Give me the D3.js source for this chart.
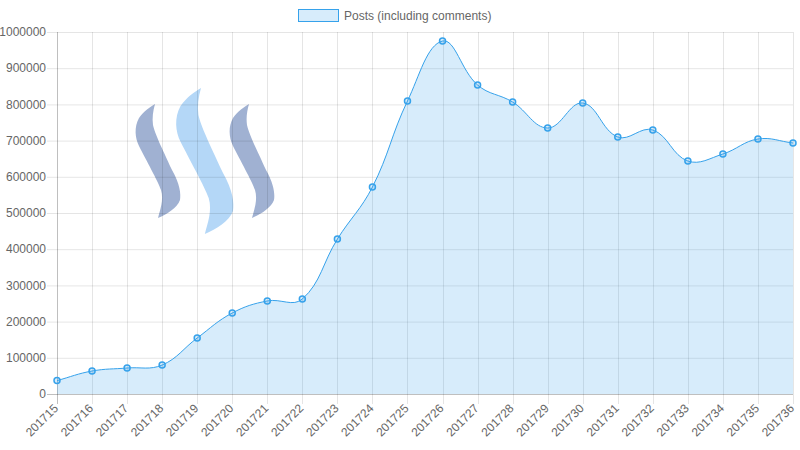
<!DOCTYPE html>
<html>
<head>
<meta charset="utf-8">
<script src="https://cdn.jsdelivr.net/npm/d3@7"></script>
<style>
  html, body { margin: 0; padding: 0; background: #fff; }
  svg { display: block; font-family: "Liberation Sans", Arial, Helvetica, sans-serif; }
</style>
</head>
<body>
<svg id="chart" width="800" height="450"></svg>
<script>
// ---- data ----
const weeks = ["201715","201716","201717","201718","201719","201720","201721","201722","201723","201724","201725",
               "201726","201727","201728","201729","201730","201731","201732","201733","201734","201735","201736"];
const posts = [37000, 63500, 71800, 80000, 154700, 223800, 257000, 262400, 428000, 571800, 809400,
               975000, 853600, 806600, 734800, 803900, 710000, 729300, 643600, 663000, 704400, 693400];
const yTicks = [0, 100000, 200000, 300000, 400000, 500000, 600000, 700000, 800000, 900000, 1000000];
const seriesLabel = "Posts (including comments)";

// ---- layout ----
const plotL = 57, plotR = 793, plotT = 32, plotB = 394;
const svg = d3.select("#chart");

const x = d3.scalePoint().domain(weeks).range([plotL, plotR]);
const y = d3.scaleLinear().domain([0, 1000000]).range([plotB, plotT]);

const lineColor = "rgb(54,162,235)";
const fillColor = "rgba(54,162,235,0.2)";
const textColor = "#666";

// ---- background logo (decorative) ----
const logo = svg.append("g");
const shapePath = "M0,0 C-2,7 -3,14 -2,21 C0,30 6,42 17,66 C25,80 26,90 25,96 C22,104 12,110 3,114 " +
                  "C5,106 9,96 6,86 C3,77 -9,56 -16,42 C-20,34 -21,23 -16,14 C-11,7 -5,3 0,0 Z";
logo.append("path").attr("d", shapePath).attr("transform", "translate(155,104)")
  .attr("fill", "rgb(160,177,210)");
logo.append("path").attr("d", shapePath).attr("transform", "translate(201,88) scale(1.28)")
  .attr("fill", "rgb(180,215,247)");
logo.append("path").attr("d", shapePath).attr("transform", "translate(249,104)")
  .attr("fill", "rgb(160,177,210)");

// ---- grid ----
const grid = svg.append("g");
grid.selectAll("line.h").data(yTicks).join("line")
  .attr("x1", plotL - 10).attr("x2", plotR)
  .attr("y1", d => y(d) + 0.5).attr("y2", d => y(d) + 0.5)
  .attr("stroke", d => d === 0 ? "rgba(0,0,0,0.25)" : "rgba(0,0,0,0.1)");
grid.selectAll("line.v").data(weeks).join("line")
  .attr("x1", d => Math.round(x(d)) + 0.5).attr("x2", d => Math.round(x(d)) + 0.5)
  .attr("y1", plotT).attr("y2", plotB + 10)
  .attr("stroke", (d, i) => i === 0 ? "rgba(0,0,0,0.25)" : "rgba(0,0,0,0.1)");

// ---- y labels ----
svg.append("g").selectAll("text").data(yTicks).join("text")
  .attr("x", plotL - 11).attr("y", d => y(d))
  .attr("dy", "0.35em").attr("text-anchor", "end")
  .attr("font-size", 12).attr("fill", textColor)
  .text(d => d);

// ---- x labels ----
svg.append("g").selectAll("text").data(weeks).join("text")
  .attr("transform", d => `translate(${x(d) - 1},${plotB + 12}) rotate(-45)`)
  .attr("text-anchor", "end").attr("dy", "0.35em")
  .attr("font-size", 12).attr("fill", textColor)
  .text(d => d);

// ---- Chart.js-like spline ----
const pts = posts.map((v, i) => ({ x: x(weeks[i]), y: y(v) }));
const tension = 0.4;
const clX = v => Math.max(plotL, Math.min(plotR, v));
const clY = v => Math.max(plotT, Math.min(plotB, v));
const ctrl = pts.map((p, i) => {
  const prev = pts[i - 1] || p, next = pts[i + 1] || p;
  const d01 = Math.hypot(p.x - prev.x, p.y - prev.y);
  const d12 = Math.hypot(next.x - p.x, next.y - p.y);
  let s01 = d01 / (d01 + d12), s12 = d12 / (d01 + d12);
  if (isNaN(s01)) s01 = 0;
  if (isNaN(s12)) s12 = 0;
  const fa = tension * s01, fb = tension * s12;
  return {
    px: clX(p.x - fa * (next.x - prev.x)), py: clY(p.y - fa * (next.y - prev.y)),
    nx: clX(p.x + fb * (next.x - prev.x)), ny: clY(p.y + fb * (next.y - prev.y))
  };
});
let lineD = `M${pts[0].x},${pts[0].y}`;
for (let i = 1; i < pts.length; i++) {
  lineD += `C${ctrl[i - 1].nx},${ctrl[i - 1].ny} ${ctrl[i].px},${ctrl[i].py} ${pts[i].x},${pts[i].y}`;
}
const areaD = lineD + `L${pts[pts.length - 1].x},${y(0)}L${pts[0].x},${y(0)}Z`;

svg.append("path").attr("d", areaD).attr("fill", fillColor);
svg.append("path").attr("d", lineD).attr("fill", "none")
  .attr("stroke", lineColor).attr("stroke-width", 1);

svg.append("g").selectAll("circle").data(posts).join("circle")
  .attr("cx", (d, i) => x(weeks[i])).attr("cy", d => y(d)).attr("r", 3)
  .attr("fill", fillColor).attr("stroke", lineColor).attr("stroke-width", 1.5);

// ---- legend ----
const lg = svg.append("g");
lg.append("rect").attr("x", 298.5).attr("y", 9.5).attr("width", 40).attr("height", 12)
  .attr("fill", fillColor).attr("stroke", lineColor).attr("stroke-width", 1);
lg.append("text").attr("x", 344).attr("y", 16).attr("dy", "0.35em")
  .attr("font-size", 12).attr("fill", textColor).text(seriesLabel);
</script>
</body>
</html>
